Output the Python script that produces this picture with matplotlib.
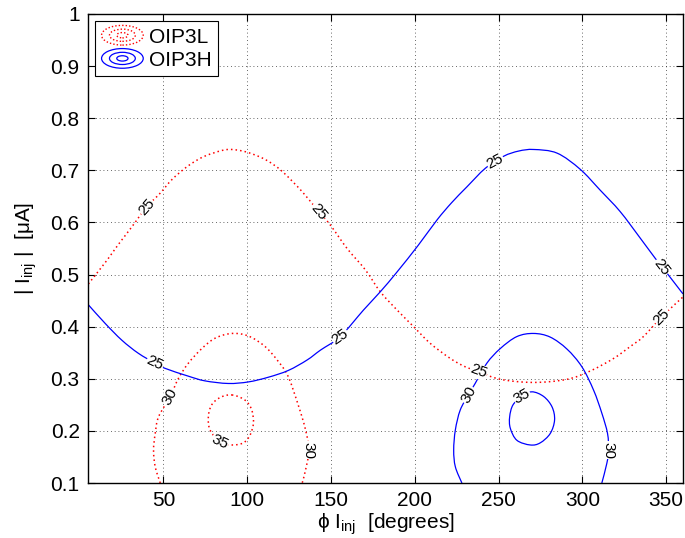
import matplotlib
matplotlib.use("Agg")
import matplotlib.pyplot as plt
import numpy as np
from matplotlib.lines import Line2D
from matplotlib.patches import Ellipse, PathPatch
from matplotlib.path import Path
from matplotlib.legend_handler import HandlerBase

plt.rcParams['font.family'] = ['Liberation Sans', 'DejaVu Sans']
plt.rcParams['mathtext.fontset'] = 'custom'
plt.rcParams['mathtext.rm'] = 'Liberation Sans'
plt.rcParams['mathtext.it'] = 'Liberation Sans:italic'

# ---- data ----
l25_x = [5.2, 13.3, 17.8, 22.7, 27.7, 33.1, 40, 48, 55.3, 64.5, 73.8, 84.8, 90.8, 99.7, 110.6, 120.5,
         132.8, 142.6, 149.6, 159.6, 170.5, 179.4, 189.4, 199.3, 209.2, 221.2, 230.1, 238, 251, 270.9,
         290.8, 304.7, 318.6, 328.6, 336.4, 347.4, 360]
l25_y = [0.482, 0.515, 0.534, 0.556, 0.577, 0.600, 0.630, 0.656, 0.683, 0.708, 0.726, 0.738, 0.740, 0.735,
         0.721, 0.699, 0.659, 0.621, 0.595, 0.550, 0.509, 0.467, 0.432, 0.400, 0.368, 0.339, 0.323, 0.314,
         0.299, 0.293, 0.299, 0.315, 0.339, 0.362, 0.381, 0.419, 0.457]

l30_x = [48.1, 45.1, 44.1, 45.1, 47.1, 54, 59, 64.9, 72.9, 80.9, 90.8, 100.7, 110.6, 118.6, 124.5, 130.8,
         134.8, 136.8, 134.8, 132.8]
l30_y = [0.100, 0.131, 0.163, 0.195, 0.227, 0.266, 0.301, 0.330, 0.358, 0.378, 0.387, 0.382, 0.362, 0.333,
         0.304, 0.246, 0.202, 0.163, 0.125, 0.100]

l35_x = [90.8, 98.7, 102.7, 103.7, 101.7, 97.7, 90.8, 83.8, 77.8, 76.8, 78.8, 83.8, 90.8]
l35_y = [0.269, 0.259, 0.240, 0.215, 0.192, 0.177, 0.173, 0.179, 0.202, 0.227, 0.250, 0.264, 0.269]

h25_x = [5.2, 15.3, 25.2, 35, 45, 51, 64.9, 74.8, 88.7, 100.7, 112.6, 124.5, 135.7, 143.7, 155.5, 169.4,
         179.4, 189.4, 202, 213.3, 222, 231, 242.1, 253, 262, 271, 284.9, 298.7, 310.6, 322.5,
         334.5, 343.5, 347.5, 360]
h25_y = [0.442, 0.406, 0.374, 0.349, 0.330, 0.320, 0.305, 0.296, 0.291, 0.294, 0.303, 0.316, 0.336, 0.355,
         0.381, 0.432, 0.467, 0.505, 0.556, 0.605, 0.638, 0.668, 0.704, 0.727, 0.737, 0.740, 0.733, 0.702,
         0.662, 0.621, 0.570, 0.531, 0.515, 0.463]

h30_x = [228.1, 224.2, 223.2, 224.2, 227.1, 232, 236, 243, 251, 260.9, 270.9, 280.8, 290.8, 299.7, 306.7,
         311.6, 315, 315.6, 314.6, 311.6]
h30_y = [0.100, 0.131, 0.163, 0.202, 0.240, 0.269, 0.291, 0.330, 0.358, 0.381, 0.387, 0.380, 0.357, 0.323,
         0.278, 0.234, 0.195, 0.163, 0.138, 0.100]

h35_x = [269.9, 276.9, 281.9, 283.4, 280.8, 274.8, 268.9, 260.9, 257, 256.6, 258.6, 264, 269.9]
h35_y = [0.275, 0.266, 0.246, 0.221, 0.195, 0.177, 0.173, 0.182, 0.205, 0.227, 0.250, 0.266, 0.275]

# contour labels: x, y, text, angle
lab_x = [40, 142.6, 238, 347.4, 54, 136.8, 83.8, 45, 155.5, 248, 347.5, 232, 315.6, 264]
lab_y = [0.630, 0.621, 0.314, 0.419, 0.266, 0.163, 0.179, 0.330, 0.381, 0.717, 0.515, 0.269, 0.163, 0.266]
lab_t = ['25', '25', '25', '25', '30', '30', '35', '25', '25', '25', '25', '30', '30', '35']
lab_a = [49, -50, -20, 45, 62, -90, -25, -25, 35, 28, -52, 62, -90, 30]

x_ticks = [50, 100, 150, 200, 250, 300, 350]
y_ticks = [0.1, 0.2, 0.3, 0.4, 0.5, 0.6, 0.7, 0.8, 0.9, 1.0]
y_ticklabels = ['0.1', '0.2', '0.3', '0.4', '0.5', '0.6', '0.7', '0.8', '0.9', '1']
series_names = ['OIP3L', 'OIP3H']


def smooth_path(xs, ys):
    """Cubic Bezier path passing through the read points (Catmull-Rom style tangents)."""
    P = np.column_stack([xs, ys]).astype(float)
    n = len(P)
    closed = np.allclose(P[0], P[-1])

    def pt(i):
        if closed:
            return P[i % (n - 1)]
        return P[min(max(i, 0), n - 1)]

    verts = [P[0]]
    codes = [Path.MOVETO]
    for i in range(n - 1):
        p0, p1, p2, p3 = pt(i - 1), pt(i), pt(i + 1), pt(i + 2)
        c1 = p1 + (p2 - p0) / 6.0
        c2 = p2 - (p3 - p1) / 6.0
        verts += [c1, c2, p2]
        codes += [Path.CURVE4] * 3
    return Path(verts, codes)


# ---- figure ----
fig = plt.figure(figsize=(6.85, 5.38), dpi=100)
ax = fig.add_axes([0.1285, 0.1022, 0.8685, 0.8718])

red_kw = dict(edgecolor='red', lw=1.1, linestyle=(0, (1, 2.0)), fill=False)
blue_kw = dict(edgecolor='blue', lw=0.9, linestyle='-', fill=False)
for xs, ys in [(l25_x, l25_y), (l30_x, l30_y), (l35_x, l35_y)]:
    ax.add_patch(PathPatch(smooth_path(xs, ys), zorder=2, **red_kw))
for xs, ys in [(h25_x, h25_y), (h30_x, h30_y), (h35_x, h35_y)]:
    ax.add_patch(PathPatch(smooth_path(xs, ys), zorder=2, **blue_kw))

for x, y, t, a in zip(lab_x, lab_y, lab_t, lab_a):
    ax.text(x, y, t, rotation=a, rotation_mode='anchor', ha='center', va='center',
            fontsize=11, color='black', zorder=4,
            bbox=dict(facecolor='white', edgecolor='none', pad=0.3))

ax.set_xlim(5, 360)
ax.set_ylim(0.1, 1.0)
ax.set_xticks(x_ticks)
ax.set_yticks(y_ticks)
ax.set_yticklabels(y_ticklabels)
ax.tick_params(direction='in', length=5, width=0.8, labelsize=15, top=True, right=True, pad=6)
ax.grid(True, color='black', linestyle=(0, (1, 3.5)), linewidth=0.6, alpha=0.8)
ax.set_axisbelow(True)
for s in ax.spines.values():
    s.set_linewidth(1.0)

ax.set_xlabel(r'ϕ I$_{\mathrm{inj}}$  [degrees]', fontsize=15, labelpad=1)
ax.set_ylabel(r'$|$ I$_{\mathrm{inj}}$ $|$  [μA]', fontsize=15, labelpad=8)


class EllipseHandler(HandlerBase):
    def __init__(self, color, ls, lw):
        super().__init__()
        self.color, self.ls, self.lw = color, ls, lw

    def create_artists(self, legend, orig_handle, xdescent, ydescent, width, height, fontsize, trans):
        cx = width / 2 - xdescent
        cy = height / 2 - ydescent
        arts = []
        for f in (1.0, 0.62, 0.27):
            e = Ellipse((cx, cy), width * f, height * 1.35 * f, fill=False,
                        edgecolor=self.color, linestyle=self.ls, lw=self.lw, transform=trans)
            arts.append(e)
        return arts


hL = Line2D([], [], color='red')
hH = Line2D([], [], color='blue')
leg = ax.legend([hL, hH], series_names, loc='upper left', fontsize=15,
                handler_map={hL: EllipseHandler('red', (0, (1, 1.5)), 1.0),
                             hH: EllipseHandler('blue', '-', 0.9)},
                handlelength=2.0, handletextpad=0.3, borderpad=0.3, labelspacing=0.2,
                borderaxespad=0.35, fancybox=False, framealpha=1, edgecolor='black')
leg.get_frame().set_linewidth(0.8)

fig.savefig('out.png', dpi=100)
